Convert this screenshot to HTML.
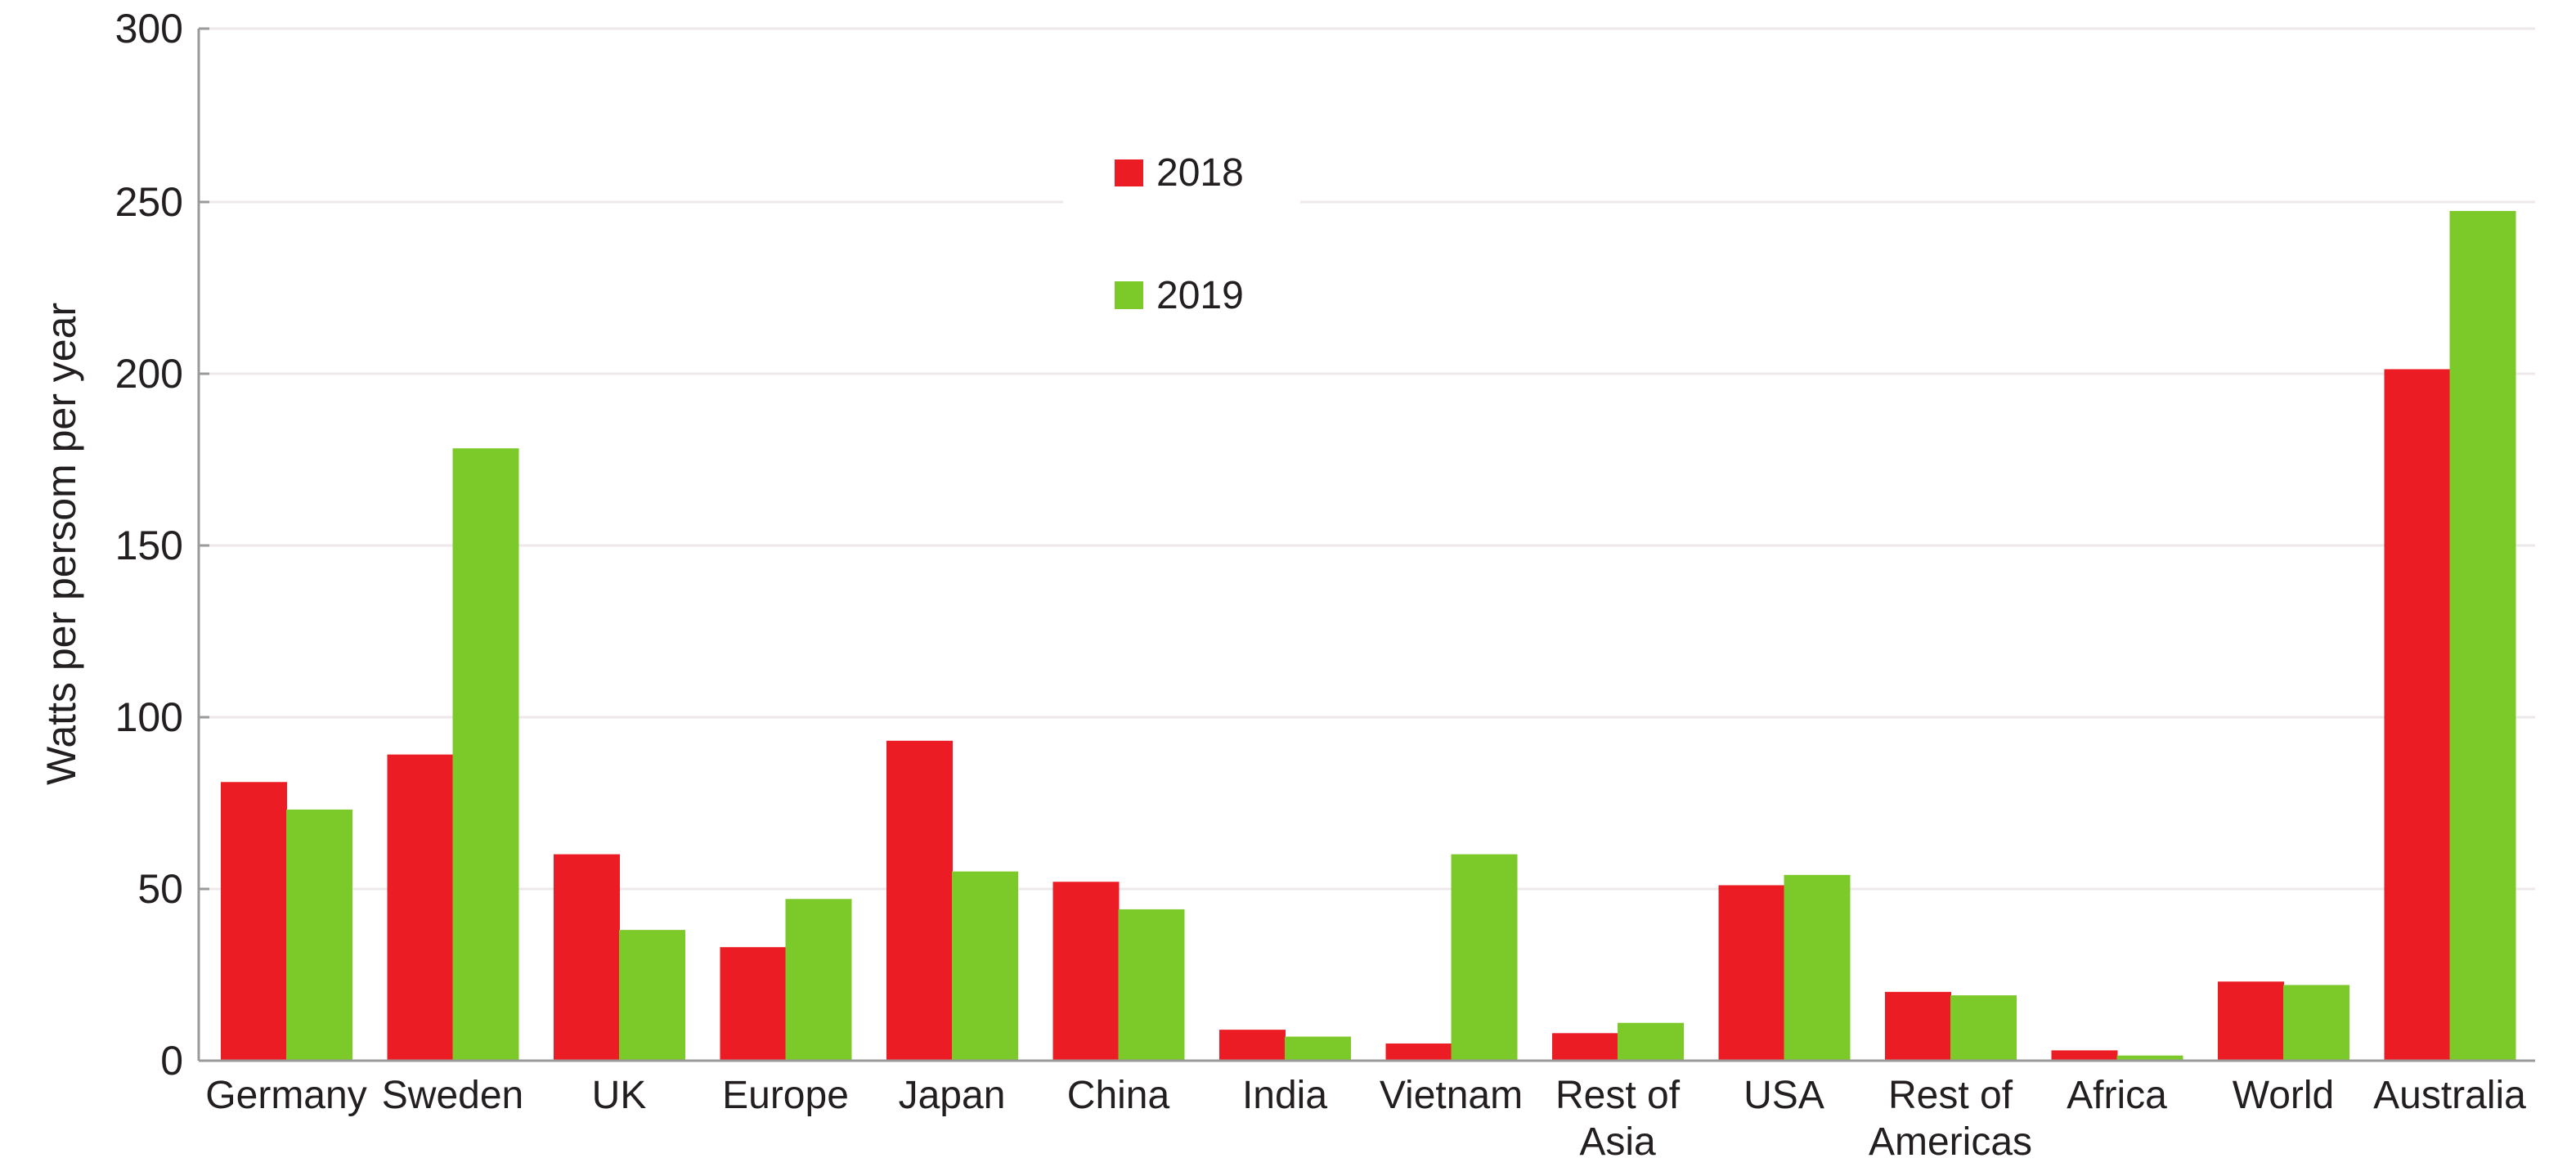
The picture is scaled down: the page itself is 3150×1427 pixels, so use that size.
<!DOCTYPE html>
<html><head><meta charset="utf-8"><style>
html,body{margin:0;padding:0;background:#fff;}
svg{display:block;}
text{font-family:"Liberation Sans",Arial,sans-serif;fill:#231f20;}
</style></head><body>
<svg width="3150" height="1427" viewBox="0 0 3150 1427" xmlns="http://www.w3.org/2000/svg">
<g stroke="#eee8e8" stroke-width="3">
<line x1="243" y1="35" x2="3100" y2="35"/>
<line x1="243" y1="247" x2="1300" y2="247"/>
<line x1="1590" y1="247" x2="3100" y2="247"/>
<line x1="243" y1="457" x2="3100" y2="457"/>
<line x1="243" y1="667" x2="3100" y2="667"/>
<line x1="243" y1="877" x2="3100" y2="877"/>
<line x1="243" y1="1087" x2="3100" y2="1087"/>
</g>
<g id="bars"></g>
<g stroke="#9a9a9a" stroke-width="3">
<line x1="243" y1="35" x2="243" y2="1297"/>
<line x1="243" y1="1297" x2="3100" y2="1297"/>
<line x1="243" y1="35" x2="256" y2="35"/>
<line x1="243" y1="247" x2="256" y2="247"/>
<line x1="243" y1="457" x2="256" y2="457"/>
<line x1="243" y1="667" x2="256" y2="667"/>
<line x1="243" y1="877" x2="256" y2="877"/>
<line x1="243" y1="1087" x2="256" y2="1087"/>
</g>
<g font-size="50" text-anchor="end">
<text x="224" y="52">300</text>
<text x="224" y="264">250</text>
<text x="224" y="474">200</text>
<text x="224" y="684">150</text>
<text x="224" y="894">100</text>
<text x="224" y="1104">50</text>
<text x="224" y="1314">0</text>
</g>
<text font-size="50" transform="translate(92,665) rotate(-90)" text-anchor="middle">Watts per persom per year</text>
<rect x="1363" y="195" width="35" height="33" fill="#ec1c24"/>
<text x="1414" y="227" font-size="48">2018</text>
<rect x="1363" y="344" width="35" height="34" fill="#7cc92a"/>
<text x="1414" y="377" font-size="48">2019</text>
<g font-size="48" text-anchor="middle" id="labels"></g>
</svg>
<script>
var d=[["Germany",81,73],["Sweden",89,178],["UK",60,38],["Europe",33,47],["Japan",93,55],["China",52,44],["India",9,7],["Vietnam",5,60],["Rest of|Asia",8,11],["USA",51,54],["Rest of|Americas",20,19],["Africa",3,1.5],["World",23,22],["Australia",201,247]];
var ns="http://www.w3.org/2000/svg",b=document.getElementById("bars"),L=document.getElementById("labels");
var k=1262/300;
d.forEach(function(e,i){
 var x=270+i*203.5;
 [[e[1],"#ec1c24",x],[e[2],"#7cc92a",x+80]].forEach(function(v){
  var r=document.createElementNS(ns,"rect");var h=v[0]*k;
  r.setAttribute("x",v[2]);r.setAttribute("y",1297-h);r.setAttribute("width",81);r.setAttribute("height",h);r.setAttribute("fill",v[1]);b.appendChild(r);
 });
 e[0].split("|").forEach(function(s,j){
  var t=document.createElementNS(ns,"text");t.setAttribute("x",x+80);t.setAttribute("y",1355+j*57);t.textContent=s;L.appendChild(t);
 });
});
</script>
</body></html>
